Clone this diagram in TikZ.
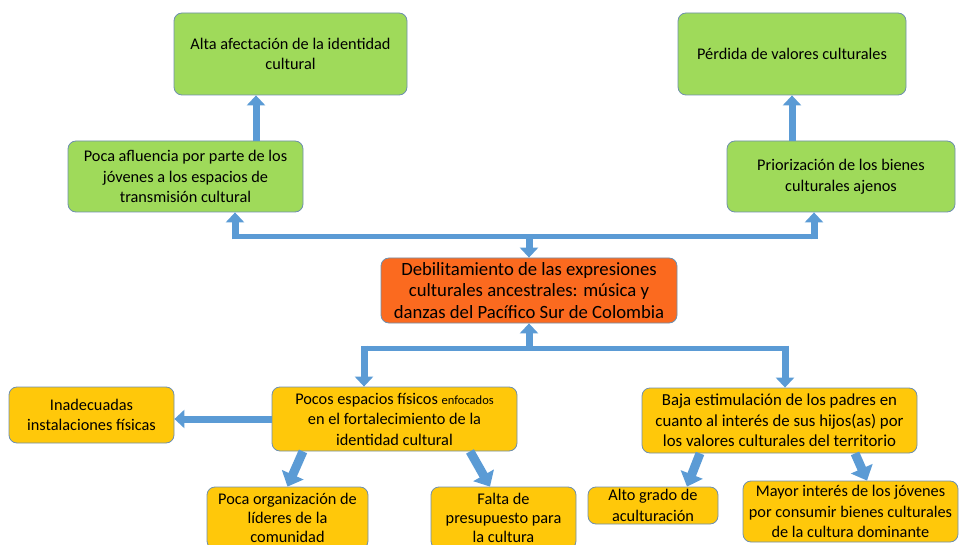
\documentclass[tikz,border=0pt]{standalone}
\usepackage{fontspec}
\setmainfont{Carlito}
\usetikzlibrary{arrows.meta}
\definecolor{verdecaja}{HTML}{9FDA5A}
\definecolor{amarillo}{HTML}{FFC80A}
\definecolor{naranja}{HTML}{FB6A1F}
\definecolor{borde}{HTML}{6E8FAE}
\definecolor{azul}{HTML}{5B9BD5}
\begin{document}
\begin{tikzpicture}[x=1pt,y=-1pt,
  caja/.style={draw=borde, line width=0.8pt, rounded corners=8pt, align=center, inner sep=2pt, font=\fontsize{16.3}{20.5}\selectfont},
  verde/.style={caja, fill=verdecaja},
  amarilla/.style={caja, fill=amarillo},
  flecha/.style={draw=azul, line width=7pt, -{Triangle[length=10pt,width=18pt]}},
  diagonal/.style={draw=azul, line width=9pt, -{Triangle[length=13pt,width=23pt]}},
  linea/.style={draw=azul, line width=5pt}]
\useasboundingbox (0,0) rectangle (961,545);
\clip (0,0) rectangle (961,545);
% efectos
\node [verde, minimum width=233pt, minimum height=82pt] (alta) at (290.5,54) {Alta afectación de la identidad\\cultural};
\node [verde, minimum width=235pt, minimum height=71pt] (afluencia) at (185.5,176.5) {Poca afluencia por parte de los\\jóvenes a los espacios de\\transmisión cultural};
\node [verde, minimum width=228pt, minimum height=82pt] (perdida) at (792,54) {Pérdida de valores culturales};
\node [verde, minimum width=228pt, minimum height=71pt] (priorizacion) at (841,176.5) {Priorización de los bienes\\culturales ajenos};
% problema central
\node [caja, fill=naranja, minimum width=296pt, minimum height=65pt, font=\fontsize{18.7}{21.5}\selectfont] (debil) at (529,290.5) {Debilitamiento de las expresiones\\culturales ancestrales: música y\\danzas del Pacífico Sur de Colombia};
% causas
\node [amarilla, minimum width=165pt, minimum height=56pt] (inadecuadas) at (91.5,415) {Inadecuadas\\instalaciones físicas};
\node [amarilla, minimum width=245pt, minimum height=64pt] (pocos) at (394.5,419) {Pocos espacios físicos {\fontsize{12.5}{20}\selectfont enfocados}\\en el fortalecimiento de la\\identidad cultural};
\node [amarilla, minimum width=161pt, minimum height=62pt, font=\fontsize{16.3}{18.8}\selectfont] (organizacion) at (287.5,518) {Poca organización de\\líderes de la\\comunidad};
\node [amarilla, minimum width=145pt, minimum height=62pt, font=\fontsize{16.3}{18.8}\selectfont] (falta) at (503.5,518) {Falta de\\presupuesto para\\la cultura};
\node [amarilla, minimum width=275pt, minimum height=65pt, font=\fontsize{16.8}{20.5}\selectfont] (baja) at (779.5,420.5) {Baja estimulación de los padres en\\cuanto al interés de sus hijos(as) por\\los valores culturales del territorio};
\node [amarilla, minimum width=130pt, minimum height=37pt] (alto) at (653,505.5) {Alto grado de\\aculturación};
\node [amarilla, minimum width=215pt, minimum height=61pt] (mayor) at (850.5,511.5) {Mayor interés de los jóvenes\\por consumir bienes culturales\\de la cultura dominante};
% conexiones arriba
\coordinate (jizq) at (235,237);
\coordinate (jder) at (814,237);
\draw [linea] (jizq) -- (jder);
\draw [flecha] ([yshift=-2.5pt]jizq) -- (jizq |- afluencia.south);
\draw [flecha] ([yshift=-2.5pt]jder) -- (jder |- priorizacion.south);
\draw [flecha] (debil.north |- jizq) -- (debil.north);
\draw [flecha] ([xshift=70.5pt]afluencia.north) -- ([xshift=70.5pt]afluencia.north |- alta.south);
\draw [flecha] (priorizacion.north -| perdida.south) -- (perdida.south);
% conexiones abajo
\coordinate (jabi) at (364,348);
\coordinate (jabd) at (785,348);
\draw [linea] (jabi) -- (jabd);
\draw [flecha] (debil.south |- jabi) -- (debil.south);
\draw [flecha] ([yshift=2.5pt]jabi) -- (jabi |- pocos.north);
\draw [flecha] ([yshift=2.5pt]jabd) -- (jabd |- baja.north);
\draw [flecha] (pocos.west) -- (pocos.west -| inadecuadas.east);
\draw [diagonal] ([xshift=-91.5pt]pocos.south) -- (organizacion.north);
\draw [diagonal] ([xshift=75.5pt]pocos.south) -- ([xshift=-13.5pt]falta.north);
\draw [diagonal] ([xshift=-79.5pt]baja.south) -- ([xshift=34pt]alto.north);
\draw [diagonal] ([xshift=75.5pt]baja.south) -- ([xshift=16.5pt]mayor.north);
\end{tikzpicture}
\end{document}
